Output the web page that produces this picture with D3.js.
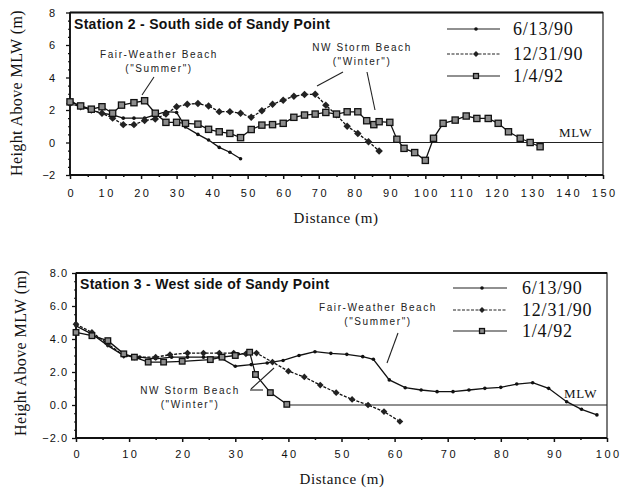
<!DOCTYPE html>
<html>
<head>
<meta charset="utf-8">
<script src="https://cdn.jsdelivr.net/npm/d3@7"></script>
<style>
  html, body { margin: 0; padding: 0; background: #fff; }
  svg { display: block; }
  .tick-label { font-family: "Liberation Sans", Arial, sans-serif; font-size: 11px; letter-spacing: 2.5px; fill: #111; }
  .serif { font-family: "Liberation Serif", "Times New Roman", serif; fill: #111; }
  .note { font-family: "Liberation Sans", Arial, sans-serif; font-size: 10px; letter-spacing: 1.6px; fill: #222; }
  .title { font-family: "Liberation Sans", Arial, sans-serif; font-size: 14px; font-weight: bold; letter-spacing: 0.3px; fill: #111; }
</style>
</head>
<body>
<div id="chart"></div>
<script>
// legend labels, shared by both stations
var seriesNames = ['6/13/90', '12/31/90', '1/4/92'];

// Station 2 - South side of Sandy Point  [distance m, height m]
var st2_061390 = [[0,2.6],[3,2.2],[6,2.0],[9,1.8],[12,1.7],[15,1.5],[18,1.5],[21,1.5],[24,1.7],[27,1.9],[30,1.85],
  [32.5,0.95],[36,0.5],[39,0.15],[42,-0.3],[45,-0.6],[48,-1.0]];
var st2_123190 = [[0,2.4],[3,2.2],[6,2.0],[9,1.8],[12,1.5],[15,1.1],[18,1.1],[21,1.35],[24,1.45],[27,1.75],[30,2.2],
  [33,2.35],[36,2.4],[39,2.25],[42,1.9],[45,1.9],[48,1.8],[51,1.55],[54,1.95],[57,2.35],[60,2.6],[63,2.85],
  [66,2.95],[69,2.97],[72,2.3],[75,1.7],[78,1.0],[81,0.56],[84,0.05],[87,-0.52]];
var st2_010492 = [[0,2.5],[3,2.25],[6,2.05],[9,2.2],[12,1.8],[14.5,2.3],[18,2.45],[21,2.57],[24,1.8],[27,1.24],
  [30,1.24],[32.5,1.18],[36,1.13],[39,0.81],[42,0.66],[45,0.56],[48,0.3],[51,0.8],[54,1.07],[57,1.1],[60,1.18],
  [63,1.55],[66,1.69],[69,1.75],[72,1.85],[75,1.75],[78,1.89],[81,1.89],[83.5,1.34],[85.5,1.1],[87,1.28],
  [90,1.24],[92,0.2],[94,-0.36],[97,-0.62],[100,-1.1],[102.3,0.26],[105,1.18],[108.4,1.38],[111.5,1.63],
  [114.5,1.48],[117.7,1.48],[120.5,1.18],[123.4,0.66],[126.7,0.26],[129.5,0.0],[132.3,-0.26]];
var st2_xTicks = [0,10,20,30,40,50,60,70,80,90,100,110,120,130,140,150];
var st2_yTicks = [-2,0,2,4,6,8];

// Station 3 - West side of Sandy Point
var st3_061390 = [[0,4.8],[3,4.3],[6,3.6],[9,3.0],[12,2.9],[15,2.8],[18,2.9],[21,2.9],[24,2.9],[27,2.9],[30,2.35],
  [33,2.45],[36,2.55],[39,2.7],[42,3.0],[45,3.23],[48,3.13],[51,3.07],[54,2.93],[56,2.77],[59,1.52],[62,1.05],
  [65,0.91],[68,0.81],[71,0.81],[74,0.91],[77,1.01],[80,1.07],[83,1.27],[86,1.35],[89,1.01],[92.4,0.2],
  [95.2,-0.26],[98.1,-0.6]];
var st3_123190 = [[0,4.9],[3,4.4],[6,3.7],[9,3.0],[11,2.9],[15,2.9],[17.7,3.05],[21,3.15],[24,3.15],[27,3.15],
  [29.7,3.15],[32,3.1],[34,3.15],[37,2.6],[40,2.05],[43,1.7],[46,1.21],[49,0.75],[52,0.34],[55,0.0],[58,-0.4],
  [61,-1.0]];
var st3_010492 = [[0,4.4],[3,4.2],[6,3.9],[9,3.1],[11,2.9],[13.6,2.6],[16.5,2.6],[20,2.65],[25.3,2.75],[27.5,2.9],
  [30,3.0],[32.7,3.2],[33.8,1.85],[36.6,0.75],[39.7,0.04]];
var st3_xTicks = [0,10,20,30,40,50,60,70,80,90,100];
var st3_yTicks = [-2,0,2,4,6,8];

var svg = d3.select('#chart').append('svg')
  .attr('width', 621)
  .attr('height', 493);

function marker(g, kind, x, y, scale) {
  var k = scale || 1;
  if (kind === 'dot') {
    g.append('circle').attr('cx', x).attr('cy', y).attr('r', 1.8).attr('fill', '#111');
  } else if (kind === 'diamond') {
    g.append('path').attr('d', d3.symbol().type(d3.symbolSquare).size(28 * k * k)())
      .attr('transform', 'translate(' + x + ',' + y + ') rotate(45)').attr('fill', '#222');
  } else {
    var h = 3.1 * k;
    g.append('rect').attr('x', x - h).attr('y', y - h).attr('width', 2 * h).attr('height', 2 * h)
      .attr('fill', '#8c8c8c').attr('stroke', '#111').attr('stroke-width', 1.3);
  }
}

function drawPanel(cfg) {
  var g = svg.append('g');
  var x = d3.scaleLinear().domain(cfg.xDomain).range(cfg.xRange);
  var y = d3.scaleLinear().domain([-2, 8]).range(cfg.yRange);
  var x0 = cfg.xRange[0], x1 = cfg.xRange[1], y0 = cfg.yRange[0], y1 = cfg.yRange[1];

  // frame
  g.append('rect').attr('x', x0).attr('y', y1).attr('width', x1 - x0).attr('height', y0 - y1)
    .attr('fill', 'none').attr('stroke', '#222').attr('stroke-width', 1.2);
  g.append('line').attr('x1', x0).attr('x2', x1).attr('y1', y0).attr('y2', y0)
    .attr('stroke', '#111').attr('stroke-width', 2);
  g.append('line').attr('x1', x0).attr('x2', x1).attr('y1', y1).attr('y2', y1)
    .attr('stroke', '#111').attr('stroke-width', 1.8);
  g.append('line').attr('x1', x0).attr('x2', x0).attr('y1', y0).attr('y2', y1)
    .attr('stroke', '#111').attr('stroke-width', 1.8);

  // x axis ticks and labels
  var xAxis = d3.axisBottom(x).tickValues(cfg.xTicks).tickSize(4).tickFormat(d3.format('d'));
  var xa = g.append('g').attr('transform', 'translate(0,' + y0 + ')').call(xAxis);
  xa.select('.domain').remove();
  xa.selectAll('line').attr('stroke', '#111').attr('stroke-width', 1.5);
  xa.selectAll('text').attr('class', 'tick-label').attr('dy', null).attr('y', cfg.xLabelDy)
    .attr('dx', '1.2px').attr('font-family', null).attr('font-size', null);
  var xMinor = d3.axisBottom(x).tickValues(d3.range(cfg.xDomain[0] + 5, cfg.xDomain[1], 10)).tickSize(2).tickFormat('');
  var xm = g.append('g').attr('transform', 'translate(0,' + y0 + ')').call(xMinor);
  xm.select('.domain').remove();
  xm.selectAll('line').attr('stroke', '#111').attr('stroke-width', 1.5);

  // y axis ticks and labels
  var yAxis = d3.axisLeft(y).tickValues(cfg.yTicks).tickSize(4).tickFormat(d3.format(cfg.yFormat));
  var ya = g.append('g').attr('transform', 'translate(' + x0 + ',0)').call(yAxis);
  ya.select('.domain').remove();
  ya.selectAll('line').attr('stroke', '#111').attr('stroke-width', 1.3);
  ya.selectAll('text').attr('class', 'tick-label').attr('x', -cfg.yLabelDx)
    .style('letter-spacing', cfg.yLetter).attr('font-family', null).attr('font-size', null);
  var yMinor = d3.axisLeft(y).tickValues(d3.range(-1.5, 8, 0.5).filter(function(v) { return v % 2 !== 0; }))
    .tickSize(2).tickFormat('');
  var ym = g.append('g').attr('transform', 'translate(' + x0 + ',0)').call(yMinor);
  ym.select('.domain').remove();
  ym.selectAll('line').attr('stroke', '#111').attr('stroke-width', 1.1);

  // MLW reference line
  g.append('line').attr('x1', x(cfg.mlwFrom)).attr('x2', x1).attr('y1', y(0)).attr('y2', y(0))
    .attr('stroke', '#222').attr('stroke-width', 1.2);
  g.append('text').attr('class', 'serif').attr('x', cfg.mlwLabel[0]).attr('y', cfg.mlwLabel[1])
    .attr('font-size', 13).style('letter-spacing', '0.8px').text('MLW');

  // series
  var line = d3.line().x(function(d) { return x(d[0]); }).y(function(d) { return y(d[1]); });
  var kinds = ['dot', 'diamond', 'square'];
  var dashes = [null, '3,1.5', null];
  cfg.series.forEach(function(s, i) {
    g.append('path').datum(s).attr('d', line).attr('fill', 'none')
      .attr('stroke', '#111').attr('stroke-width', 1.3).attr('stroke-dasharray', dashes[i]);
  });
  cfg.series.forEach(function(s, i) {
    s.forEach(function(d) { marker(g, kinds[i], x(d[0]), y(d[1]), cfg.markerScale); });
  });

  // title
  g.append('text').attr('class', 'title').attr('x', x0 + cfg.titleDx).attr('y', y1 + 16).text(cfg.title);

  // legend
  seriesNames.forEach(function(name, i) {
    var ly = cfg.legend.y[i];
    g.append('line').attr('x1', cfg.legend.x0).attr('x2', cfg.legend.x1).attr('y1', ly).attr('y2', ly)
      .attr('stroke', '#222').attr('stroke-width', 1.2).attr('stroke-dasharray', dashes[i]);
    marker(g, kinds[i], cfg.legend.mx, ly, 0.8);
    g.append('text').attr('class', 'serif').attr('x', cfg.legend.tx).attr('y', ly + 6)
      .attr('font-size', 18).style('letter-spacing', '0.8px').text(name);
  });

  // notes with pointer lines
  cfg.notes.forEach(function(n) {
    n.lines.forEach(function(t, k) {
      g.append('text').attr('class', 'note').attr('x', n.x).attr('y', n.y + k * 14)
        .attr('text-anchor', 'middle').text(t);
    });
    n.arrows.forEach(function(a) {
      g.append('line').attr('x1', a[0]).attr('y1', a[1]).attr('x2', a[2]).attr('y2', a[3])
        .attr('stroke', '#222').attr('stroke-width', 1.1);
    });
  });

  // axis titles
  g.append('text').attr('class', 'serif').attr('font-size', 16)
    .attr('transform', 'translate(' + cfg.yTitle[0] + ',' + cfg.yTitle[1] + ') rotate(-90)')
    .attr('text-anchor', 'middle').style('letter-spacing', '0.4px').text('Height Above MLW (m)');
  g.append('text').attr('class', 'serif').attr('font-size', 15)
    .attr('x', cfg.xTitle[0]).attr('y', cfg.xTitle[1]).attr('text-anchor', 'middle')
    .style('letter-spacing', '0.6px').text('Distance (m)');
}

drawPanel({
  xDomain: [0, 150], xRange: [70, 603], yRange: [175, 12.5],
  xTicks: st2_xTicks, yTicks: st2_yTicks, yFormat: 'd', yLabelDx: 15, yLetter: '0px', xLabelDy: 22,
  series: [st2_061390, st2_123190, st2_010492], markerScale: 1,
  mlwFrom: 40, mlwLabel: [559, 137],
  title: 'Station 2 - South side of Sandy Point', titleDx: 4,
  legend: { x0: 447, x1: 500, mx: 476, tx: 513, y: [29, 54, 76] },
  notes: [
    { x: 159, y: 58, lines: ['Fair-Weather Beach', '("Summer")'], arrows: [[154, 77, 142, 95]] },
    { x: 362, y: 51, lines: ['NW Storm Beach', '("Winter")'], arrows: [[343, 72, 317, 86], [367, 72, 375, 110]] }
  ],
  yTitle: [22, 93], xTitle: [336, 223]
});

drawPanel({
  xDomain: [0, 100], xRange: [76, 607], yRange: [438, 273],
  xTicks: st3_xTicks, yTicks: st3_yTicks, yFormat: '.1f', yLabelDx: 8, yLetter: '1px', xLabelDy: 20,
  series: [st3_061390, st3_123190, st3_010492], markerScale: 0.9,
  mlwFrom: 40, mlwLabel: [564, 398],
  title: 'Station 3 - West side of Sandy Point', titleDx: 4,
  legend: { x0: 453, x1: 507, mx: 482, tx: 522, y: [288, 310, 331] },
  notes: [
    { x: 190, y: 394, lines: ['NW Storm Beach', '("Winter")'], arrows: [[251, 389, 274, 368], [250, 390, 263, 390]] },
    { x: 378, y: 311, lines: ['Fair-Weather Beach', '("Summer")'], arrows: [[398, 333, 387, 363]] }
  ],
  yTitle: [26, 353], xTitle: [342, 484]
});
</script>
</body>
</html>
